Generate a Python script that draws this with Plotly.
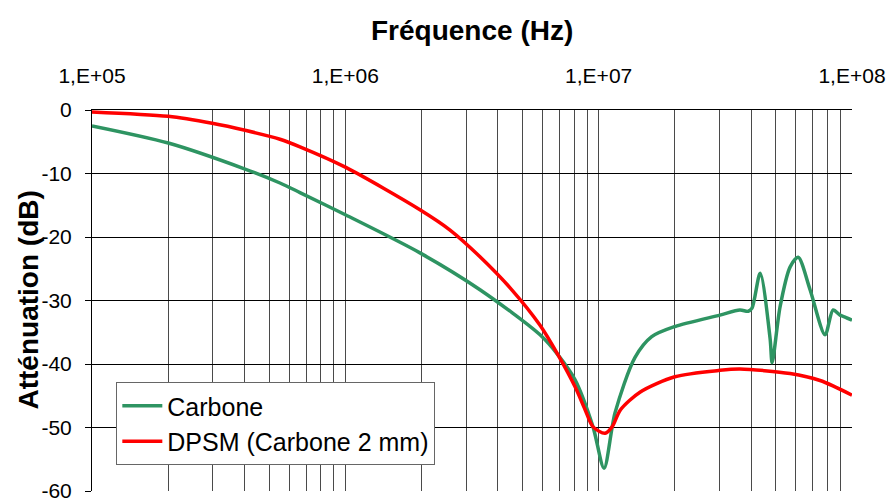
import plotly.graph_objects as go

# Carbone (measured)
freq_carbone = [1.0e5, 2.0e5, 4.02e5, 5.52e5, 6.62e5, 1.0e6, 1.97e6, 3.40e6, 5.87e6, 6.92e6,
                8.07e6, 9.50e6, 1.05e7, 1.16e7, 1.39e7, 1.62e7, 2.00e7, 3.01e7, 3.61e7,
                3.89e7, 4.03e7, 4.34e7, 4.75e7, 4.84e7, 5.20e7, 5.70e7, 6.13e7, 6.83e7,
                7.83e7, 8.42e7, 8.97e7, 9.39e7, 1.0e8]
att_carbone = [-2.5, -5.2, -9.3, -11.5, -13.0, -16.5, -22.5, -28.3, -35.4, -38.6,
               -42.5, -49.9, -56.4, -47.7, -39.0, -35.7, -34.1, -32.3, -31.5,
               -31.7, -31.2, -25.7, -36.0, -39.8, -31.0, -24.7, -23.2, -28.3,
               -35.4, -31.5, -32.3, -32.6, -33.1]

# DPSM (Carbone 2 mm)
freq_dpsm = [1.0e5, 2.0e5, 2.98e5, 4.02e5, 5.52e5, 6.62e5, 1.0e6, 1.97e6, 2.59e6, 3.40e6,
             4.47e6, 5.87e6, 6.92e6, 8.07e6, 8.84e6, 9.50e6, 1.06e7, 1.13e7, 1.22e7,
             1.46e7, 2.00e7, 3.01e7, 3.61e7, 5.70e7, 7.48e7, 1.0e8]
att_dpsm = [-0.3, -1.0, -2.1, -3.2, -4.6, -5.8, -9.0, -15.7, -18.9, -23.1,
            -28.0, -33.9, -38.6, -43.6, -47.2, -49.9, -50.9, -49.9, -47.2,
            -44.4, -42.0, -41.0, -40.8, -41.5, -42.6, -44.9]

decade_vals = [1e5, 1e6, 1e7, 1e8]
decade_text = ["1,E+05", "1,E+06", "1,E+07", "1,E+08"]
minor_vals = [m * d for d in [1e5, 1e6, 1e7] for m in range(2, 10)]
y_ticks = [0, -10, -20, -30, -40, -50, -60]
y_text = ["0", "-10", "-20", "-30", "-40", "-50", "-60"]

font_family = "Liberation Sans, Arial, sans-serif"

fig = go.Figure()
fig.add_trace(go.Scatter(x=freq_carbone, y=att_carbone, mode="lines", name="Carbone",
                         legendgroup="a",
                         line=dict(color="#2e9462", width=3.5, shape="spline", smoothing=0.8)))
fig.add_trace(go.Scatter(x=freq_dpsm, y=att_dpsm, mode="lines", name="DPSM (Carbone 2 mm)",
                         legendgroup="b",
                         line=dict(color="#ff0000", width=3.5, shape="spline", smoothing=0.8)))

fig.update_layout(
    width=891, height=502,
    margin=dict(l=92, r=39, t=110, b=11),
    plot_bgcolor="white", paper_bgcolor="white",
    font=dict(family=font_family, color="black", size=21),
    showlegend=True,
    legend=dict(x=0.032, y=0.286, xanchor="left", yanchor="top",
                bgcolor="white", bordercolor="#666666", borderwidth=1,
                font=dict(size=25, family=font_family), itemwidth=40,
                traceorder="grouped", tracegroupgap=0),
    xaxis=dict(type="log", range=[5, 8], side="top", automargin=False,
               tickvals=decade_vals, ticktext=decade_text,
               showgrid=True, gridcolor="#4a4a4a", gridwidth=1.4,
               minor=dict(tickvals=minor_vals, showgrid=True, gridcolor="#4a4a4a", gridwidth=1.4),
               showline=True, linecolor="black", linewidth=1,
               ticks="", ticklabelstandoff=18, ticklabeloverflow="allow",
               tickfont=dict(size=21), zeroline=False),
    yaxis=dict(range=[-60, 0], tickvals=y_ticks, ticktext=y_text, automargin=False,
               showgrid=True, gridcolor="black", gridwidth=1,
               showline=True, linecolor="black", linewidth=1, mirror=False,
               ticks="outside", ticklen=6, tickcolor="black", ticklabelstandoff=9,
               ticklabeloverflow="allow",
               tickfont=dict(size=21), zeroline=False),
    annotations=[
        dict(text="<b>Fréquence (Hz)</b>", xref="paper", yref="paper",
             x=0.5, y=1.0, yshift=80, xanchor="center", yanchor="middle",
             showarrow=False, font=dict(size=28, family=font_family)),
        dict(text="<b>Atténuation (dB)</b>", xref="paper", yref="paper",
             x=0, xshift=-64, y=0.5, yshift=0, textangle=-90,
             xanchor="center", yanchor="middle",
             showarrow=False, font=dict(size=28, family=font_family)),
    ],
)

fig.write_html("out.html", config={"displayModeBar": False},
               post_script="document.body.style.margin='0';document.body.style.overflow='hidden';")
